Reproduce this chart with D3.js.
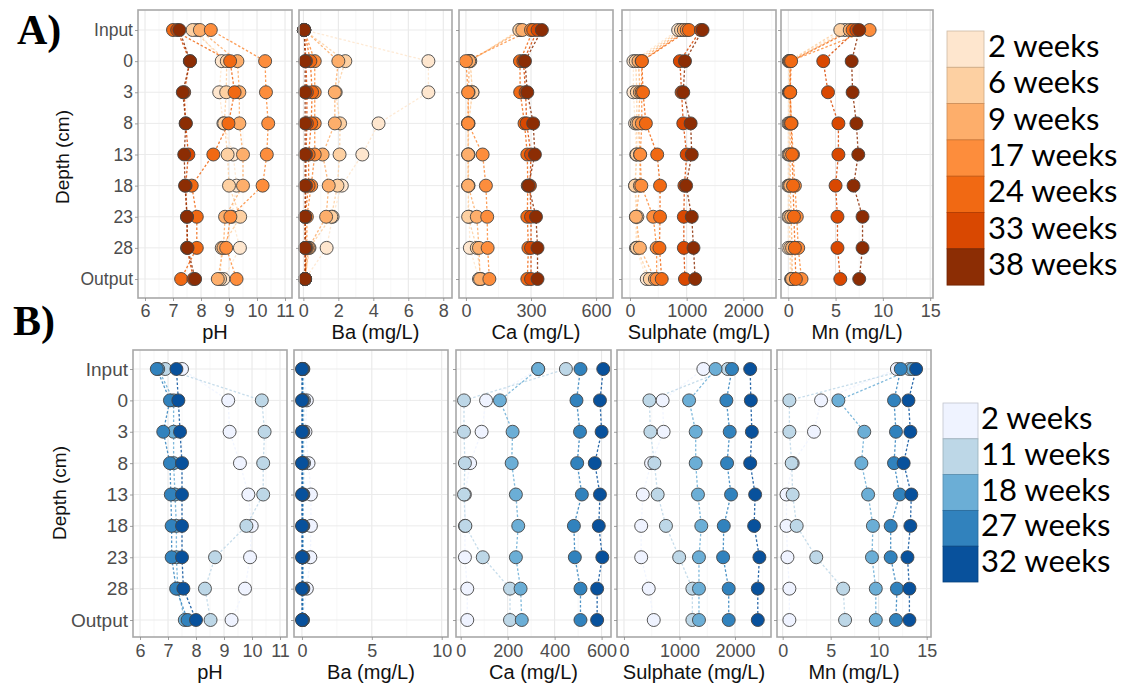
<!DOCTYPE html>
<html>
<head>
<meta charset="utf-8">
<script src="https://cdn.jsdelivr.net/npm/d3@7"></script>
<style>
  body { margin: 0; background: #fff; }
</style>
</head>
<body>
<svg id="chart" width="1124" height="685"></svg>
<script>
// depth categories (top to bottom)
const depths = ["Input", "0", "3", "8", "13", "18", "23", "28", "Output"];
const varLabels = ["pH", "Ba (mg/L)", "Ca (mg/L)", "Sulphate (mg/L)", "Mn (mg/L)"];

// ---- A) series: 2, 6, 9, 17, 24, 33, 38 weeks
const weeksA = ["2 weeks", "6 weeks", "9 weeks", "17 weeks", "24 weeks", "33 weeks", "38 weeks"];
const phA = [
  [7.85, 8.74, 8.65, 8.80, 9.15, 9.27, 9.10, 9.39, 8.80],
  [7.70, 8.92, 8.90, 8.83, 8.95, 9.00, 9.40, 8.74, 8.68],
  [7.96, 9.30, 9.37, 9.37, 9.50, 9.50, 8.86, 8.80, 8.60],
  [8.35, 10.29, 10.32, 10.40, 10.35, 10.20, 9.05, 8.90, 9.27],
  [7.00, 9.04, 9.20, 8.98, 8.44, 7.67, 7.85, 7.85, 7.29],
  [7.15, 7.60, 7.40, 7.45, 7.55, 7.45, 7.50, 7.50, 7.73],
  [7.23, 7.61, 7.35, 7.46, 7.40, 7.43, 7.50, 7.52, 7.79]
];
const baA = [
  [0.05, 7.15, 7.15, 4.30, 3.37, 2.20, 1.67, 1.33, 0.10],
  [0.05, 2.40, 1.85, 2.10, 2.07, 1.95, 1.60, 0.35, 0.10],
  [0.05, 2.00, 1.80, 1.80, 1.10, 1.45, 1.30, 0.30, 0.10],
  [0.05, 0.65, 0.65, 0.65, 0.65, 0.45, 0.20, 0.20, 0.10],
  [0.05, 0.40, 0.50, 0.45, 0.30, 0.30, 0.10, 0.15, 0.10],
  [0.05, 0.15, 0.20, 0.20, 0.15, 0.15, 0.10, 0.10, 0.10],
  [0.05, 0.10, 0.10, 0.10, 0.10, 0.10, 0.10, 0.10, 0.10]
];
const caA = [
  [250, 18, 30, 10, 10, 10, 15, 18, 60],
  [246, 20, 30, 12, 12, 12, 10, 50, 70],
  [260, 15, 12, 10, 10, 10, 50, 60, 65],
  [300, 0, 10, 10, 77, 92, 98, 100, 108],
  [310, 249, 250, 270, 283, 285, 283, 288, 283],
  [330, 265, 275, 280, 300, 295, 300, 300, 300],
  [350, 272, 283, 310, 318, 288, 323, 330, 330]
];
const so4A = [
  [850, 60, 60, 90, 110, 90, 105, 105, 295],
  [900, 100, 120, 120, 120, 90, 130, 120, 350],
  [950, 150, 175, 150, 175, 175, 105, 175, 440],
  [1000, 205, 205, 210, 180, 200, 410, 470, 470],
  [1040, 210, 230, 280, 480, 530, 530, 520, 560],
  [1250, 880, 910, 940, 1000, 960, 950, 950, 970],
  [1280, 970, 940, 1070, 1090, 990, 1090, 1120, 1150]
];
const mnA = [
  [6.0, 0.05, 0.05, 0.0, 0.0, 0.0, 0.0, 0.0, 0.3],
  [5.5, 0.1, 0.1, 0.1, 0.1, 0.1, 0.1, 0.2, 0.35],
  [6.5, 0.2, 0.15, 0.2, 0.2, 0.2, 0.3, 0.4, 0.4],
  [8.6, 0.2, 0.2, 0.35, 0.5, 0.7, 0.9, 1.05, 1.4],
  [6.8, 0.3, 0.2, 0.3, 0.4, 0.5, 0.6, 0.7, 0.8],
  [7.2, 3.7, 4.2, 5.3, 5.3, 5.0, 5.2, 5.2, 5.5],
  [7.5, 6.7, 6.8, 7.2, 7.4, 6.9, 7.85, 7.85, 7.5]
];

// ---- B) series: 2, 11, 18, 27, 32 weeks
const weeksB = ["2 weeks", "11 weeks", "18 weeks", "27 weeks", "32 weeks"];
const phB = [
  [7.50, 9.15, 9.20, 9.57, 9.87, 9.99, 9.93, 9.75, 9.27],
  [6.90, 10.35, 10.45, 10.40, 10.40, 9.80, 8.68, 8.32, 8.52],
  [6.65, 7.20, 7.20, 7.20, 7.25, 7.30, 7.30, 7.35, 7.60],
  [6.60, 7.07, 6.83, 7.07, 7.10, 7.13, 7.13, 7.29, 7.70],
  [7.30, 7.37, 7.43, 7.50, 7.50, 7.50, 7.50, 7.55, 8.00]
];
const baB = [
  [0.10, 0.35, 0.25, 0.47, 0.64, 0.64, 0.60, 0.35, 0.05],
  [0.05, 0.15, 0.10, 0.15, 0.10, 0.10, 0.10, 0.10, 0.05],
  [0.05, 0.05, 0.05, 0.05, 0.05, 0.05, 0.05, 0.05, 0.05],
  [0.05, 0.05, 0.05, 0.05, 0.05, 0.05, 0.05, 0.05, 0.05],
  [0.00, 0.00, 0.00, 0.00, 0.00, 0.00, 0.00, 0.00, 0.00]
];
const caB = [
  [330, 108, 89, 40, 18, 18, 18, 28, 28],
  [448, 14, 14, 18, 14, 20, 94, 210, 210],
  [330, 167, 221, 217, 235, 245, 235, 255, 260],
  [510, 493, 508, 496, 516, 482, 486, 510, 510],
  [607, 593, 600, 571, 593, 588, 603, 581, 581]
];
const so4B = [
  [1430, 696, 714, 488, 339, 310, 310, 446, 536],
  [1870, 458, 476, 548, 607, 756, 994, 1232, 1232],
  [1650, 1173, 1292, 1292, 1333, 1393, 1351, 1351, 1351],
  [1946, 1845, 1905, 1857, 1929, 1798, 1786, 1887, 1887],
  [2274, 2286, 2304, 2274, 2363, 2345, 2440, 2411, 2411]
];
const mnB = [
  [11.9, 4.0, 3.26, 1.04, 0.4, 0.4, 0.5, 0.7, 0.7],
  [13.2, 0.7, 0.7, 0.94, 1.04, 1.46, 3.5, 6.3, 6.5],
  [13.5, 5.8, 8.5, 8.2, 8.9, 9.4, 9.3, 9.7, 9.7],
  [12.3, 11.6, 11.8, 11.6, 12.2, 11.25, 11.25, 11.9, 11.8],
  [13.9, 13.1, 13.3, 12.6, 13.4, 13.3, 13.0, 13.2, 13.2]
];

const ticksA = [[6, 7, 8, 9, 10, 11], [0, 2, 4, 6, 8], [0, 300, 600], [0, 1000, 2000], [0, 5, 10, 15]];
const ticksB = [[6, 7, 8, 9, 10, 11], [0, 5, 10], [0, 200, 400, 600], [0, 1000, 2000], [0, 5, 10, 15]];

const SANS = "'Liberation Sans', Arial, sans-serif";
const svg = d3.select("#chart");

const groupA = {
  label: "A)", labelPos: [17, 44],
  top: 10, bottom: 298, yFirst: 30, yLast: 279,
  panels: [[138, 292], [299, 452], [459, 613], [622, 776], [781, 933]],
  domains: [[5.75, 11.25], [-0.25, 8.5], [-32, 678], [-141, 2576], [-0.77, 15.3]],
  ticks: ticksA,
  data: [phA, baA, caA, so4A, mnA],
  names: weeksA,
  colors: d3.schemeOranges[8].slice(1),
  tickPad: 3, tickFont: 18, yFont: 17.5, titleY: 339, depthTitle: [62, 157],
  legend: { x: 947, y: 31, w: 37, h: 36.3, tx: 988 }
};

const groupB = {
  label: "B)", labelPos: [13, 335],
  top: 350, bottom: 637, yFirst: 369, yLast: 620,
  panels: [[133, 287], [294, 448], [456, 611], [617, 771], [777, 931]],
  domains: [[5.75, 11.25], [-0.57, 10.45], [-20, 640], [-126, 2649], [-0.59, 15.45]],
  ticks: ticksB,
  data: [phB, baB, caB, so4B, mnB],
  names: weeksB,
  colors: d3.schemeBlues[5],
  tickPad: 4, tickFont: 18, yFont: 19, titleY: 679, depthTitle: [59, 493],
  legend: { x: 943, y: 403, w: 35, h: 35.8, tx: 981 }
};

function drawGroup(g) {
  const root = svg.append("g");
  const y = d3.scalePoint().domain(depths).range([g.yFirst, g.yLast]);

  g.panels.forEach(function (px, i) {
    const x = d3.scaleLinear().domain(g.domains[i]).range(px);
    const p = root.append("g");

    p.append("rect")
      .attr("x", px[0]).attr("y", g.top)
      .attr("width", px[1] - px[0]).attr("height", g.bottom - g.top)
      .attr("fill", "#fff");

    // minor + major vertical grid
    const tk = g.ticks[i];
    const step = tk[1] - tk[0];
    const minor = d3.range(tk[0] - step / 2, tk[tk.length - 1] + step, step)
      .filter(v => v > g.domains[i][0] && v < g.domains[i][1]);
    p.selectAll(".minor").data(minor).enter().append("line")
      .attr("x1", d => x(d)).attr("x2", d => x(d))
      .attr("y1", g.top).attr("y2", g.bottom)
      .attr("stroke", "#f2f2f2").attr("stroke-width", 0.6);
    p.selectAll(".major").data(tk).enter().append("line")
      .attr("x1", d => x(d)).attr("x2", d => x(d))
      .attr("y1", g.top).attr("y2", g.bottom)
      .attr("stroke", "#e6e6e6").attr("stroke-width", 1);
    p.selectAll(".hgrid").data(depths).enter().append("line")
      .attr("x1", px[0]).attr("x2", px[1])
      .attr("y1", d => y(d)).attr("y2", d => y(d))
      .attr("stroke", "#ebebeb").attr("stroke-width", 1);

    // dashed lines joining the same sampling week down the column
    const line = d3.line()
      .x(v => x(v))
      .y((v, j) => y(depths[j]));
    p.selectAll(".path").data(g.data[i]).enter().append("path")
      .attr("d", line)
      .attr("fill", "none")
      .attr("stroke", (d, s) => g.colors[s])
      .attr("stroke-width", 1.3)
      .attr("stroke-dasharray", "2.5,2")
      .attr("opacity", 0.85);

    // points
    g.data[i].forEach(function (series, s) {
      p.selectAll(".pt" + s).data(series).enter().append("circle")
        .attr("cx", v => x(v))
        .attr("cy", (v, j) => y(depths[j]))
        .attr("r", 6.5)
        .attr("fill", g.colors[s])
        .attr("stroke", "#444")
        .attr("stroke-width", 0.9);
    });

    p.append("rect")
      .attr("x", px[0]).attr("y", g.top)
      .attr("width", px[1] - px[0]).attr("height", g.bottom - g.top)
      .attr("fill", "none").attr("stroke", "#a8a8a8").attr("stroke-width", 1.6);

    // axes
    const ax = p.append("g")
      .attr("transform", "translate(0," + g.bottom + ")")
      .call(d3.axisBottom(x).tickValues(tk).tickSize(3).tickPadding(g.tickPad).tickFormat(d3.format("d")));
    const ay = p.append("g")
      .attr("transform", "translate(" + px[0] + ",0)")
      .call(d3.axisLeft(y).tickSize(3).tickPadding(2).tickFormat(i === 0 ? (d => d) : ""));
    [ax, ay].forEach(a => {
      a.select(".domain").remove();
      a.selectAll(".tick line").attr("stroke", "#888").attr("stroke-width", 0.8);
      a.selectAll("text").attr("fill", "#4d4d4d").style("font-family", SANS);
    });
    ax.selectAll("text").style("font-size", g.tickFont + "px");
    ay.selectAll("text").style("font-size", g.yFont + "px");

    p.append("text")
      .attr("x", (px[0] + px[1]) / 2).attr("y", g.titleY)
      .attr("text-anchor", "middle").attr("fill", "#111")
      .style("font-family", SANS).style("font-size", "20px")
      .text(varLabels[i]);
  });

  root.append("text")
    .attr("transform", "translate(" + g.depthTitle[0] + "," + g.depthTitle[1] + ") rotate(-90)")
    .attr("text-anchor", "middle").attr("dy", "0.35em").attr("fill", "#111")
    .style("font-family", SANS).style("font-size", "19px")
    .text("Depth (cm)");

  root.append("text")
    .attr("x", g.labelPos[0]).attr("y", g.labelPos[1])
    .style("font-family", "'Liberation Serif', 'Times New Roman', serif")
    .style("font-weight", "bold").style("font-size", "42px")
    .text(g.label);

  // legend
  const lg = root.append("g");
  const L = g.legend;
  lg.selectAll("rect").data(g.names).enter().append("rect")
    .attr("x", L.x).attr("y", (d, k) => L.y + k * L.h)
    .attr("width", L.w).attr("height", L.h)
    .attr("fill", (d, k) => g.colors[k])
    .attr("stroke", (d, k) => d3.color(g.colors[k]).darker(0.6))
    .attr("stroke-width", 0.8);
  lg.selectAll("text").data(g.names).enter().append("text")
    .attr("x", L.tx).attr("y", (d, k) => L.y + k * L.h + 26)
    .attr("fill", "#000")
    .style("font-family", "Lato, Carlito, sans-serif").style("font-size", "31px")
    .text(d => d);
}

drawGroup(groupA);
drawGroup(groupB);
</script>
</body>
</html>
